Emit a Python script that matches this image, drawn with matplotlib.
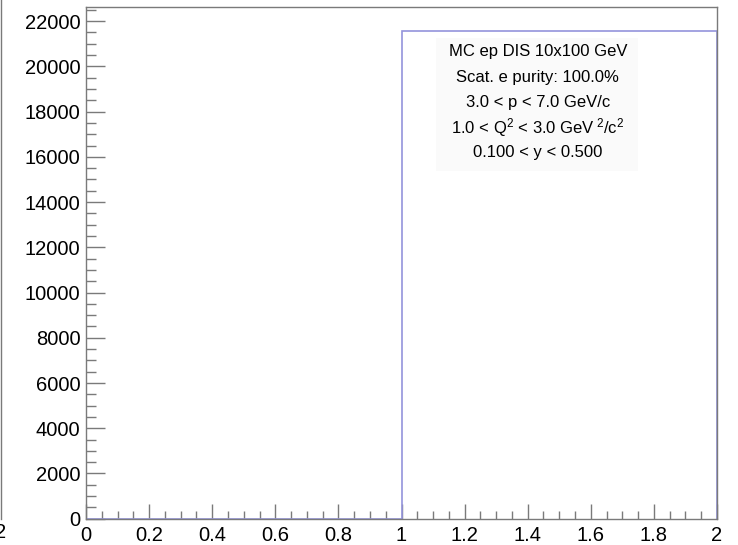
import numpy as np
import matplotlib.pyplot as plt
from matplotlib.lines import Line2D
from matplotlib.patches import Rectangle

plt.rcParams['font.family'] = ['Liberation Sans', 'DejaVu Sans']
plt.rcParams['mathtext.fontset'] = 'custom'
plt.rcParams['mathtext.rm'] = 'Liberation Sans'
plt.rcParams['mathtext.it'] = 'Liberation Sans'

# histogram: 2 bins over [0, 2]
edges = [0.0, 1.0, 2.0]
counts = [0, 21550]
ymax = 1.05 * max(counts)

labels = ['MC ep DIS 10x100 GeV',
          'Scat. e purity: 100.0%',
          '3.0 < p < 7.0 GeV/c',
          r'1.0 < Q$^{2}$ < 3.0 GeV$^{\ 2}$/c$^{2}$',
          '0.100 < y < 0.500']

fig = plt.figure(figsize=(7.38, 5.45), dpi=100)
ax = fig.add_axes([86/738, 1 - 518.7/545, 631/738, 511.7/545])

ax.stairs(counts, edges, color='#9494dc', lw=1.2, zorder=2)
ax.set_xlim(0, 2)
ax.set_ylim(0, ymax)

ax.set_xticks(np.arange(0, 2.01, 0.2))
ax.set_xticklabels(['0', '0.2', '0.4', '0.6', '0.8', '1', '1.2', '1.4', '1.6', '1.8', '2'])
ax.set_xticks(np.arange(0, 2.01, 0.05), minor=True)
ax.set_yticks(np.arange(0, 22001, 2000))
ax.set_yticks(np.arange(0, ymax, 500), minor=True)

grey = '#7a7a7a'
for s in ax.spines.values():
    s.set_color(grey)
    s.set_linewidth(1.0)
ax.tick_params(axis='both', which='both', direction='in', colors=grey,
               labelcolor='black', labelsize=14.5, width=1.0)
ax.tick_params(axis='x', which='major', length=11, pad=5)
ax.tick_params(axis='x', which='minor', length=6)
ax.tick_params(axis='y', which='major', length=14, pad=4)
ax.tick_params(axis='y', which='minor', length=7)

# faint text-box background
ax.add_patch(Rectangle((0.555, 0.68), 0.32, 0.26, transform=ax.transAxes,
                       facecolor='#fafafa', edgecolor='none', zorder=1))
ys = [0.9125, 0.862, 0.813, 0.7635, 0.715]
for t, yy in zip(labels, ys):
    ax.text(0.716, yy, t, transform=ax.transAxes, ha='center', va='center',
            fontsize=12, zorder=3)

# edge of neighbouring pad on the left
fig.add_artist(Line2D([1/738, 1/738], [1 - 518.7/545, 1.0], color=grey, lw=1.0))
fig.text(1/738, 1 - 533/545, '2', ha='center', va='center', fontsize=14.5)

fig.savefig('out.png', dpi=100)
